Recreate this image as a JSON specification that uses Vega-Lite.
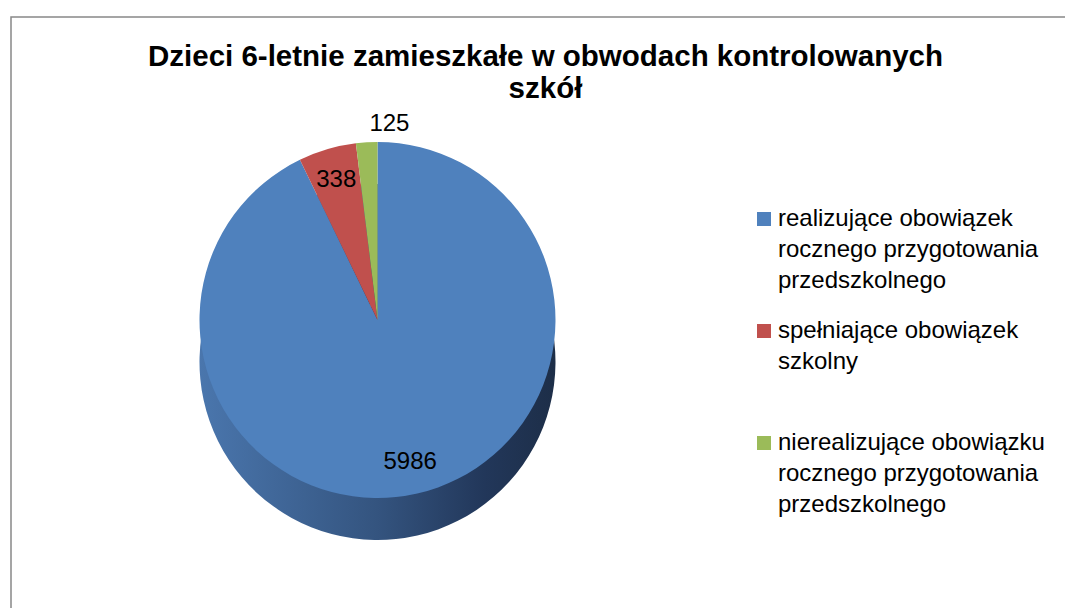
{
  "$schema": "https://vega.github.io/schema/vega-lite/v6.json",
  "width": 1069,
  "height": 606,
  "autosize": {"type": "none"},
  "padding": {"left": 11, "top": 17, "right": 0, "bottom": 0},
  "background": "white",
  "config": {
    "view": {"stroke": null},
    "font": "Liberation Sans",
    "style": {"guide-label": {"lineHeight": 31}}
  },
  "title": {
    "text": ["Dzieci 6-letnie zamieszkałe w obwodach kontrolowanych", "szkół"],
    "anchor": "middle",
    "frame": "group",
    "baseline": "top",
    "offset": -88.5,
    "font": "Liberation Sans",
    "fontSize": 29.5,
    "fontWeight": "bold",
    "color": "#000000",
    "lineHeight": 32
  },
  "data": {
    "values": [
      {"kategoria": "realizujące obowiązek|rocznego przygotowania|przedszkolnego", "liczba": 5986, "etykieta": "5986", "grupa": "wewnątrz", "kolejnosc": 1},
      {"kategoria": "spełniające obowiązek|szkolny", "liczba": 338, "etykieta": "338", "grupa": "wewnątrz", "kolejnosc": 2},
      {"kategoria": "nierealizujące obowiązku|rocznego przygotowania|przedszkolnego", "liczba": 125, "etykieta": "125", "grupa": "zewnątrz", "kolejnosc": 3}
    ]
  },
  "layer": [
    {
      "transform": [{"aggregate": [{"op": "count", "as": "n"}]}],
      "mark": {"type": "rect", "fill": null, "stroke": "#888888", "strokeWidth": 1.5},
      "encoding": {}
    },
    {
      "mark": {
        "type": "arc",
        "radius": 178,
        "xOffset": -168,
        "yOffset": 42,
        "fill": {
          "gradient": "linear",
          "x1": 0, "y1": 0, "x2": 1, "y2": 0,
          "stops": [
            {"offset": 0, "color": "#4a76ad"},
            {"offset": 0.5, "color": "#34547f"},
            {"offset": 0.8, "color": "#22375a"},
            {"offset": 1, "color": "#1d2e48"}
          ]
        }
      },
      "encoding": {
        "theta": {"field": "liczba", "type": "quantitative", "stack": true},
        "order": {"field": "kolejnosc", "type": "quantitative"}
      }
    },
    {
      "mark": {"type": "arc", "radius": 178, "xOffset": -168},
      "encoding": {
        "theta": {"field": "liczba", "type": "quantitative", "stack": true},
        "order": {"field": "kolejnosc", "type": "quantitative"},
        "color": {
          "field": "kategoria",
          "type": "nominal",
          "sort": null,
          "scale": {
            "domain": [
              "realizujące obowiązek|rocznego przygotowania|przedszkolnego",
              "spełniające obowiązek|szkolny",
              "nierealizujące obowiązku|rocznego przygotowania|przedszkolnego"
            ],
            "range": ["#4f81bd", "#c0504d", "#9bbb59"]
          },
          "legend": {
            "title": null,
            "orient": "none",
            "legendX": 741,
            "legendY": 197,
            "padding": 0,
            "symbolType": "M-1,-2H1V0H-1Z",
            "symbolSize": 196,
            "symbolStrokeWidth": 0,
            "symbolOpacity": 1,
            "labelFont": "Liberation Sans",
            "labelFontSize": 24,
            "labelColor": "#000000",
            "labelLimit": 0,
            "labelBaseline": "alphabetic",
            "labelOffset": 2,
            "labelExpr": "length(split(datum.label, '|')) < 3 ? split(datum.label + '| ', '|') : split(datum.label, '|')",
            "rowPadding": 26
          }
        }
      }
    },
    {
      "mark": {"type": "text", "xOffset": -168, "font": "Liberation Sans", "fontSize": 24, "color": "#000000"},
      "encoding": {
        "theta": {"field": "liczba", "type": "quantitative", "stack": true},
        "order": {"field": "kolejnosc", "type": "quantitative"},
        "radius": {
          "field": "grupa",
          "type": "ordinal",
          "scale": {"domain": ["wewnątrz", "zewnątrz"], "range": [146, 196]}
        },
        "text": {"field": "etykieta", "type": "nominal"}
      }
    }
  ]
}
